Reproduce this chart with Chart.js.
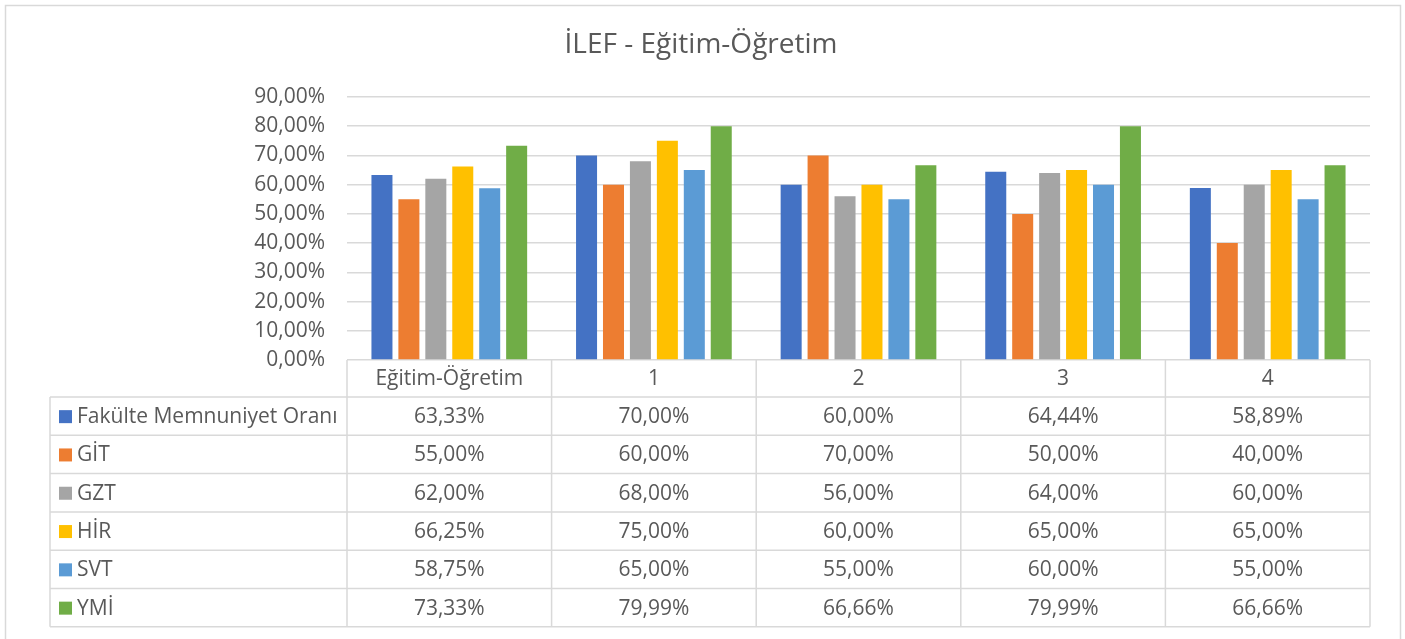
<!DOCTYPE html>
<html>
<head>
<meta charset="utf-8">
<script src="https://cdn.jsdelivr.net/npm/chart.js@4"></script>
<style>
  html, body { margin: 0; padding: 0; background: #fff; }
  #wrap { width: 1405px; height: 639px; position: relative; }
</style>
</head>
<body>
<div id="wrap"><canvas id="ilef-chart" width="1405" height="639"></canvas></div>
<script>
// data
var categories = ['Eğitim-Öğretim', '1', '2', '3', '4'];
var seriesNames = ['Fakülte Memnuniyet Oranı', 'GİT', 'GZT', 'HİR', 'SVT', 'YMİ'];
var fakulte = [63.33, 70.00, 60.00, 64.44, 58.89];
var git = [55.00, 60.00, 70.00, 50.00, 40.00];
var gzt = [62.00, 68.00, 56.00, 64.00, 60.00];
var hir = [66.25, 75.00, 60.00, 65.00, 65.00];
var svt = [58.75, 65.00, 55.00, 60.00, 55.00];
var ymi = [73.33, 79.99, 66.66, 79.99, 66.66];
var yTicks = [0, 10, 20, 30, 40, 50, 60, 70, 80, 90];
var titleText = 'İLEF - Eğitim-Öğretim';

var colors = ['#4472C4', '#ED7D31', '#A5A5A5', '#FFC000', '#5B9BD5', '#70AD47'];
var seriesValues = [fakulte, git, gzt, hir, svt, ymi];
var FONT = '"Open Sans", "Noto Sans", sans-serif';
var TEXT = '#595959';
var LINE = '#d9d9d9';

function pct(v) {
  return v.toFixed(2).replace('.', ',') + '%';
}

// frame, title and the data table under the plot
var dataTable = {
  id: 'dataTable',
  beforeDraw: function(chart) {
    var c = chart.ctx;
    c.save();
    c.fillStyle = '#fff';
    c.fillRect(0, 0, chart.width, chart.height);
    c.strokeStyle = LINE;
    c.lineWidth = 1.5;
    c.strokeRect(5.5, 5.5, 1395, 660);
    c.font = '28px ' + FONT;
    c.fillStyle = TEXT;
    c.textAlign = 'center';
    c.textBaseline = 'middle';
    c.fillText(titleText, 701, 45);
    c.restore();
  },
  afterDraw: function(chart) {
    var c = chart.ctx;
    var x = chart.scales.x;
    var area = chart.chartArea;
    var top = area.bottom;
    var headH = 37;
    var rowH = 38.3;
    var tableLeft = 50;
    var bounds = categories.map(function(cat, i) {
      var mid = x.getPixelForValue(i);
      var half = (area.right - area.left) / categories.length / 2;
      return [mid - half, mid + half, mid];
    });
    var bottom = top + headH + rowH * seriesNames.length;

    c.save();
    c.strokeStyle = LINE;
    c.lineWidth = 1.5;
    c.beginPath();
    bounds.forEach(function(b) {
      c.moveTo(b[0], top); c.lineTo(b[0], bottom);
    });
    c.moveTo(area.right, top); c.lineTo(area.right, bottom);
    c.moveTo(tableLeft, top + headH); c.lineTo(tableLeft, bottom);
    for (var r = 0; r <= seriesNames.length; r++) {
      var yy = top + headH + r * rowH;
      c.moveTo(tableLeft, yy); c.lineTo(area.right, yy);
    }
    c.stroke();

    c.font = '21px ' + FONT;
    c.fillStyle = TEXT;
    c.textBaseline = 'middle';
    c.textAlign = 'center';
    bounds.forEach(function(b, i) {
      c.fillText(categories[i], b[2], top + headH / 2 + 1);
    });
    seriesNames.forEach(function(name, s) {
      var cy = top + headH + s * rowH + rowH / 2 + 1;
      c.fillStyle = colors[s];
      c.fillRect(59, cy - 7, 13, 13);
      c.fillStyle = TEXT;
      c.textAlign = 'left';
      c.fillText(name, 77, cy);
      c.textAlign = 'center';
      seriesValues[s].forEach(function(v, i) {
        c.fillText(pct(v), bounds[i][2], cy);
      });
    });
    c.restore();
  }
};

var ctx = document.getElementById('ilef-chart').getContext('2d');
var chart = new Chart(ctx, {
  type: 'bar',
  data: {
    labels: categories,
    datasets: seriesNames.map(function(name, i) {
      return {
        label: name,
        data: seriesValues[i],
        backgroundColor: colors[i],
        categoryPercentage: 0.79,
        barPercentage: 0.78,
      };
    }),
  },
  options: {
    responsive: false,
    animation: false,
    layout: { padding: { left: 0, right: 35, top: 97, bottom: 279 } },
    plugins: {
      legend: { display: false },
      tooltip: { enabled: false },
      title: { display: false },
    },
    scales: {
      x: { display: false },
      y: {
        min: 0,
        max: 90,
        afterBuildTicks: function(scale) {
          scale.ticks = yTicks.map(function(v) { return { value: v }; });
        },
        afterFit: function(scale) { scale.width = 347; },
        border: { display: false },
        grid: { color: LINE, lineWidth: 1.5, drawTicks: false },
        ticks: {
          padding: 22,
          color: TEXT,
          font: { family: FONT, size: 21 },
          callback: function(v) { return pct(v); },
        },
      },
    },
  },
  plugins: [dataTable],
});
</script>
</body>
</html>
